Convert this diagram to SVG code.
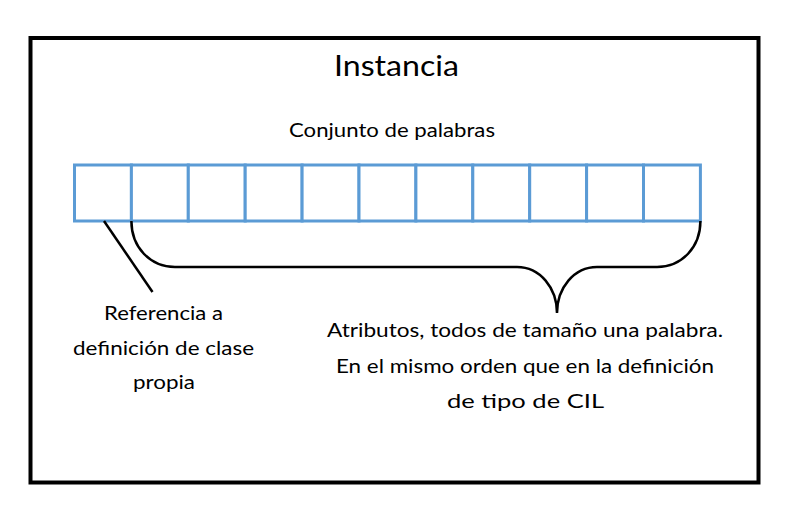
<svg xmlns="http://www.w3.org/2000/svg" width="793" height="510" viewBox="0 0 793 510">
  <style>
    .frame { fill: #ffffff; stroke: #000000; stroke-width: 4; }
    .cell { fill: #ffffff; stroke: #5B9BD5; stroke-width: 3; }
    .conn { fill: none; stroke: #000000; stroke-width: 2.5; }
    .t { font-family: Lato, "Liberation Sans", sans-serif; fill: #000000; text-anchor: middle; }
    .title { font-size: 29px; }
    .lbl { font-size: 19.5px; }
  </style>
  <rect width="793" height="510" fill="#ffffff"/>
  <rect class="frame" x="30.5" y="38" width="728" height="444.5"/>
  <g id="title"><text class="t title" x="396.5" y="76" textLength="125" lengthAdjust="spacingAndGlyphs">Instancia</text></g>
  <g id="words">
    <text class="t lbl" x="392" y="137" textLength="206" lengthAdjust="spacingAndGlyphs">Conjunto de palabras</text>
    <rect id="cell0" class="cell" x="74.5" y="165" width="56.9" height="56"/>
    <rect id="cell1" class="cell" x="131.4" y="165" width="56.9" height="56"/>
    <rect id="cell2" class="cell" x="188.3" y="165" width="56.9" height="56"/>
    <rect id="cell3" class="cell" x="245.2" y="165" width="56.9" height="56"/>
    <rect id="cell4" class="cell" x="302.1" y="165" width="56.9" height="56"/>
    <rect id="cell5" class="cell" x="359" y="165" width="56.9" height="56"/>
    <rect id="cell6" class="cell" x="415.9" y="165" width="56.9" height="56"/>
    <rect id="cell7" class="cell" x="472.8" y="165" width="56.9" height="56"/>
    <rect id="cell8" class="cell" x="529.7" y="165" width="56.9" height="56"/>
    <rect id="cell9" class="cell" x="586.6" y="165" width="56.9" height="56"/>
    <rect id="cell10" class="cell" x="643.5" y="165" width="56.9" height="56"/>
  </g>
  <g id="connectors">
    <path class="conn" d="M104,221 L152.5,292"/>
    <path class="conn" d="M131.4,221 C131.4,247 150,267 175,267 L517,267 C540,267 557,288 557,313 C557,288 574,267 597,267 L657,267 C682,267 700.4,247 700.4,221"/>
  </g>
  <g id="ref-label">
    <text class="t lbl" x="163.5" y="320" textLength="119" lengthAdjust="spacingAndGlyphs">Referencia a</text>
    <text class="t lbl" x="163.5" y="355" textLength="181" lengthAdjust="spacingAndGlyphs">definición de clase</text>
    <text class="t lbl" x="164" y="389" textLength="62" lengthAdjust="spacingAndGlyphs">propia</text>
  </g>
  <g id="attr-label">
    <text class="t lbl" x="525" y="337" textLength="396" lengthAdjust="spacingAndGlyphs">Atributos, todos de tamaño una palabra.</text>
    <text class="t lbl" x="525" y="373" textLength="378" lengthAdjust="spacingAndGlyphs">En el mismo orden que en la definición</text>
    <text class="t lbl" x="525.5" y="408" textLength="157" lengthAdjust="spacingAndGlyphs">de tipo de CIL</text>
  </g>
</svg>
